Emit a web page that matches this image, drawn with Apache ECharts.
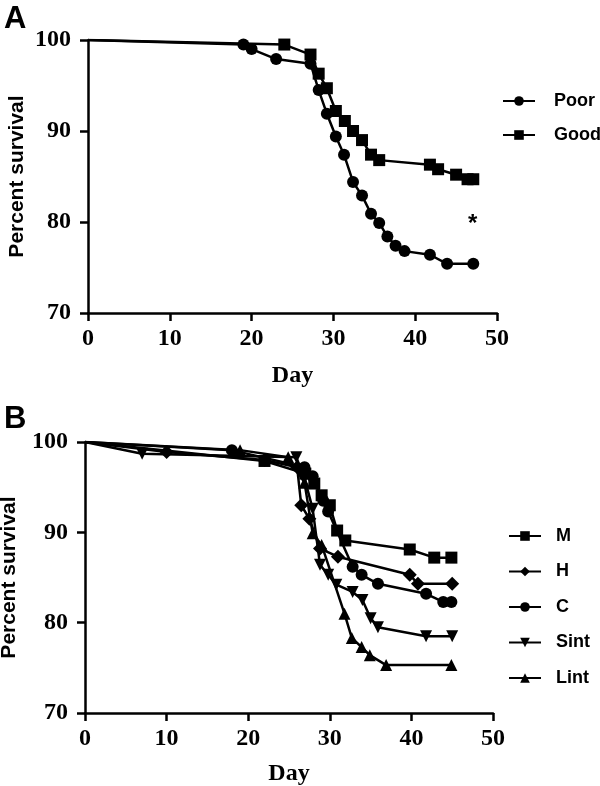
<!DOCTYPE html>
<html>
<head>
<meta charset="utf-8">
<script src="https://cdn.jsdelivr.net/npm/echarts@6/dist/echarts.min.js"></script>
<style>
html,body{margin:0;padding:0;background:#fff;}
#chart{width:600px;height:786px;}
</style>
</head>
<body>
<div id="chart"></div>
<script>
// ---- Panel A data ----
var poorDays = [0, 19, 20, 23, 27.2, 28.2, 29.2, 30.3, 31.3, 32.4, 33.5, 34.6, 35.6, 36.6, 37.6, 38.7, 41.8, 43.9, 47.1];
var poorSurvival = [100, 99.5, 99.0, 97.9, 97.4, 94.5, 91.9, 89.4, 87.4, 84.4, 82.9, 80.9, 79.9, 78.4, 77.4, 76.8, 76.4, 75.4, 75.4];
var goodDays = [0, 24.0, 27.2, 28.2, 29.2, 30.3, 31.4, 32.4, 33.5, 34.6, 35.6, 41.8, 42.8, 45.0, 46.4, 47.1];
var goodSurvival = [100, 99.5, 98.4, 96.3, 94.7, 92.2, 91.1, 90.0, 89.0, 87.4, 86.8, 86.3, 85.8, 85.2, 84.7, 84.7];

// ---- Panel B data ----
var mDays = [0, 22, 27, 28.1, 29, 30, 30.9, 31.9, 39.8, 42.8, 44.9];
var mSurvival = [100, 97.9, 96.5, 95.4, 94.1, 93.0, 90.2, 89.1, 88.1, 87.2, 87.2];
var hDays = [0, 10, 22, 26, 26.5, 27.5, 28.8, 31, 39.8, 40.8, 45];
var hSurvival = [100, 98.9, 98.0, 97.2, 93.0, 91.5, 88.2, 87.3, 85.3, 84.3, 84.3];
var cDays = [0, 18, 26.9, 27.9, 29.2, 29.8, 32.8, 33.9, 35.9, 41.8, 43.9, 44.9];
var cSurvival = [100, 99.1, 97.2, 96.2, 93.5, 92.3, 86.2, 85.3, 84.3, 83.2, 82.3, 82.3];
var sintDays = [0, 7, 25.9, 26.9, 27.9, 28.8, 29.8, 30.8, 32.8, 34, 35, 35.9, 41.8, 45];
var sintSurvival = [100, 98.7, 98.3, 96.0, 92.6, 86.4, 85.3, 84.2, 83.4, 82.5, 80.5, 79.5, 78.5, 78.5];
var lintDays = [0, 19, 24.9, 26.9, 27.9, 29, 31.8, 32.7, 33.9, 34.9, 36.9, 44.9];
var lintSurvival = [100, 99.1, 98.3, 95.5, 89.9, 88.6, 81.0, 78.3, 77.3, 76.4, 75.3, 75.3];

// ---- axis ticks ----
var dayMin = 0, dayMax = 50, dayStep = 10;
var survMin = 70, survMax = 100, survStep = 10;

// the starting point (day 0) carries no marker
function pairs(xs, ys) {
  return xs.map(function (x, i) {
    return i === 0 ? { value: [x, ys[i]], symbol: 'none' } : [x, ys[i]];
  });
}

var serifFont = 'Liberation Serif';
var sansFont = 'Liberation Sans';

function xAxisCfg(gridIndex, gap) {
  return {
    gridIndex: gridIndex, type: 'value', min: dayMin, max: dayMax, interval: dayStep,
    name: 'Day', nameLocation: 'middle', nameGap: gap, nameMoveOverlap: false,
    nameTextStyle: { fontFamily: serifFont, fontWeight: 'bold', fontSize: 24, color: '#000' },
    axisLine: { lineStyle: { color: '#000', width: 2.5 } },
    axisTick: { show: true, inside: false, length: 8, lineStyle: { color: '#000', width: 2.5 } },
    axisLabel: { fontFamily: serifFont, fontWeight: 'bold', fontSize: 24, color: '#000', margin: 14 },
    splitLine: { show: false }
  };
}
function yAxisCfg(gridIndex, gap) {
  return {
    gridIndex: gridIndex, type: 'value', min: survMin, max: survMax, interval: survStep,
    name: 'Percent survival', nameLocation: 'middle', nameRotate: 90, nameGap: gap, nameMoveOverlap: false,
    nameTextStyle: { fontFamily: sansFont, fontWeight: 'bold', fontSize: 21, color: '#000' },
    axisLine: { show: true, lineStyle: { color: '#000', width: 2.5 } },
    axisTick: { show: true, inside: false, length: 8, lineStyle: { color: '#000', width: 2.5 } },
    axisLabel: { fontFamily: serifFont, fontWeight: 'bold', fontSize: 24, color: '#000', margin: 17 },
    splitLine: { show: false }
  };
}
function lineSeries(name, xi, data, symbol, rotate) {
  return {
    name: name, type: 'line', xAxisIndex: xi, yAxisIndex: xi, data: data,
    symbol: symbol, symbolSize: symbol === 'diamond' ? 14 : 12, symbolRotate: rotate || 0,
    showAllSymbol: true,
    lineStyle: { color: '#000', width: 2.5 },
    itemStyle: { color: '#000', borderWidth: 0 },
    emphasis: { disabled: true }
  };
}

function legendText(pad) {
  return { fontFamily: sansFont, fontWeight: 'bold', fontSize: 18, color: '#000', lineHeight: 18, padding: [0, 0, 0, pad] };
}

var chart = echarts.init(document.getElementById('chart'), null, { renderer: 'canvas' });
chart.setOption({
  animation: false,
  backgroundColor: '#fff',
  grid: [
    { left: 88, top: 40, width: 409, height: 273, containLabel: false, outerBoundsMode: 'none' },
    { left: 85, top: 442, width: 408, height: 271, containLabel: false, outerBoundsMode: 'none' }
  ],
  xAxis: [xAxisCfg(0, 51), xAxisCfg(1, 49)],
  yAxis: [yAxisCfg(0, 60), yAxisCfg(1, 65)],
  legend: [
    { data: ['Poor', 'Good'], orient: 'vertical', left: 497, top: 87, itemWidth: 32, itemHeight: 12, itemGap: 16,
      selectedMode: false, textStyle: legendText(14) },
    { data: ['M', 'H', 'C', 'Sint', 'Lint'], orient: 'vertical', left: 503, top: 522, itemWidth: 32, itemHeight: 12, itemGap: 17.5,
      selectedMode: false, textStyle: legendText(10) }
  ],
  graphic: [
    { type: 'text', left: 4, top: 4, style: { text: 'A', fontFamily: sansFont, fontWeight: 'bold', fontSize: 31, fill: '#000' } },
    { type: 'text', left: 4, top: 404, style: { text: 'B', fontFamily: sansFont, fontWeight: 'bold', fontSize: 31, fill: '#000' } },
    { type: 'text', left: 468, top: 212, style: { text: '*', fontFamily: sansFont, fontWeight: 'bold', fontSize: 24, fill: '#000' } }
  ],
  series: [
    lineSeries('Poor', 0, pairs(poorDays, poorSurvival), 'circle'),
    lineSeries('Good', 0, pairs(goodDays, goodSurvival), 'rect'),
    lineSeries('M', 1, pairs(mDays, mSurvival), 'rect'),
    lineSeries('H', 1, pairs(hDays, hSurvival), 'diamond'),
    lineSeries('C', 1, pairs(cDays, cSurvival), 'circle'),
    lineSeries('Sint', 1, pairs(sintDays, sintSurvival), 'triangle', 180),
    lineSeries('Lint', 1, pairs(lintDays, lintSurvival), 'triangle')
  ]
});
</script>
</body>
</html>
